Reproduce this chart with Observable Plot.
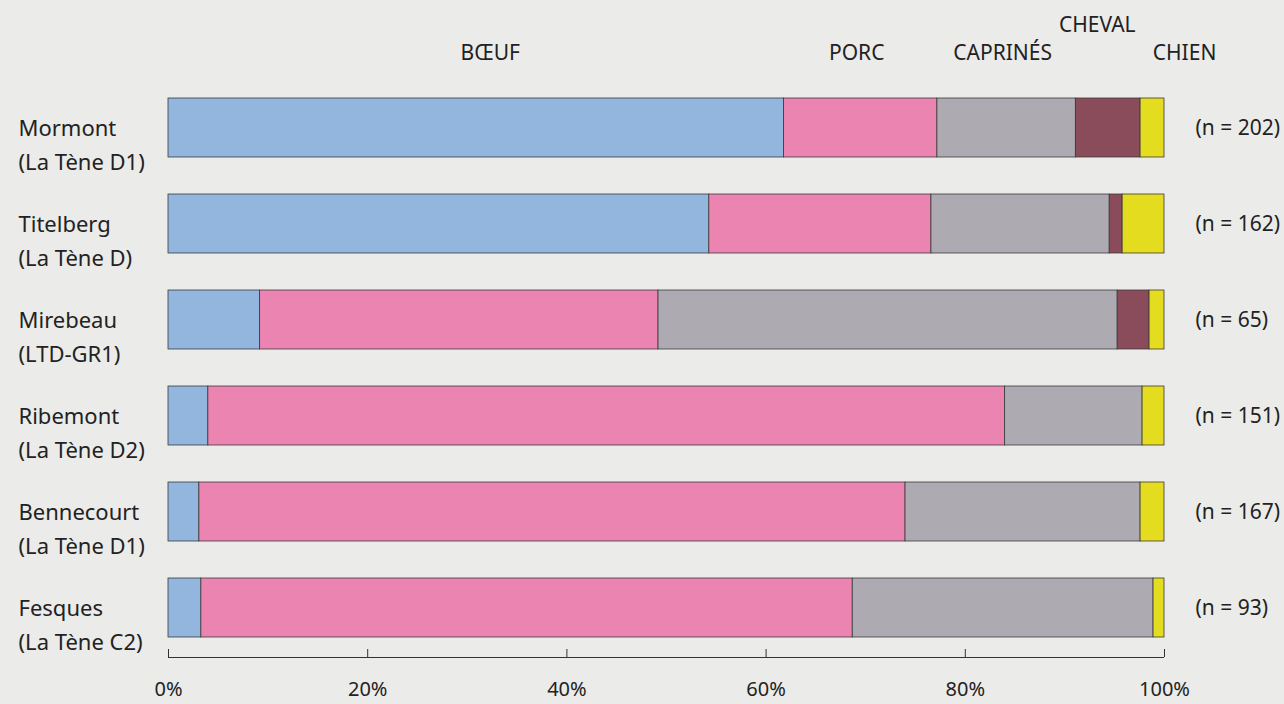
<!DOCTYPE html>
<html><head><meta charset="utf-8">
<script src="https://cdn.jsdelivr.net/npm/d3@7"></script>
<script src="https://cdn.jsdelivr.net/npm/@observablehq/plot@0.6"></script>
<style>
html,body{margin:0;padding:0;background:#ebebe9;}
#chart{width:1284px;height:704px;}
</style></head><body><div id="chart"></div>
<script>
const sites = ["Mormont","Titelberg","Mirebeau","Ribemont","Bennecourt","Fesques"];
const periods = ["(La Tène D1)","(La Tène D)","(LTD-GR1)","(La Tène D2)","(La Tène D1)","(La Tène C2)"];
const counts = [202,162,65,151,167,93];
const categories = ["BŒUF","PORC","CAPRINÉS","CHEVAL","CHIEN"];
const boeuf    = [61.8,54.3, 9.2, 4.0, 3.1, 3.3];
const porc     = [15.4,22.3,40.0,80.0,70.9,65.4];
const caprines = [13.9,17.9,46.1,13.8,23.6,30.2];
const cheval   = [ 6.5, 1.3, 3.2, 0.0, 0.0, 0.0];
const chien    = [ 2.4, 4.2, 1.5, 2.2, 2.4, 1.1];
const ticks = [0,20,40,60,80,100];
const colors = ["#93b6de","#ec84b1","#aeaab2","#8a4b5a","#e4dc1e"];

const series = [boeuf, porc, caprines, cheval, chien];
const rows = [];
sites.forEach((s,i) => series.forEach((arr,j) => rows.push({site:s, cat:categories[j], value:arr[i]})));
const siteRows = sites.map((s,i) => ({site:s, period:periods[i], n:counts[i]}));
let cum = 0;
const headers = categories.map((c,j) => { const v = series[j][0]; const m = cum + v/2; cum += v; return {cat:c, mid:m}; });

const W = 1284, H = 704, ML = 168, MR = 120, MT = 77, MB = 47;
const ink = "#222";
const hdr = (names, opts) => Plot.text(headers.filter(d => names.includes(d.cat)),
  {x:"mid", y:() => sites[0], text:"cat", fontSize:21, fill:ink, ...opts});

const plot = Plot.plot({
  width:W, height:H, marginLeft:ML, marginRight:MR, marginTop:MT, marginBottom:MB,
  style:{background:"transparent", fontFamily:"'Noto Sans', sans-serif", fontSize:"21px", color:ink},
  x:{domain:[0,100], axis:null},
  y:{domain:sites, paddingInner:0.39, paddingOuter:0.195, axis:null},
  color:{domain:categories, range:colors},
  marks:[
    Plot.barX(rows, Plot.stackX({x:"value", y:"site", fill:"cat", stroke:"#3a3a3a", strokeWidth:0.8})),
    Plot.ruleX(ticks, {x:d => d, insetTop:H-MT-MB-8, stroke:"#333", strokeWidth:1}),
    Plot.axisX({ticks, tickFormat:d => d + "%", tickSize:0, tickPadding:24, fontSize:20, fill:ink}),
    Plot.text(siteRows, {y:"site", text:d => d.site + "\n" + d.period, frameAnchor:"left",
      textAnchor:"start", dx:-150, dy:14, lineHeight:1.55, fontSize:22, fill:ink}),
    Plot.text(siteRows, {y:"site", text:d => `(n = ${d.n})`, frameAnchor:"right",
      textAnchor:"start", dx:31, fontSize:21, fill:ink}),
    hdr(["BŒUF"], {dx:14, dy:-75}),
    hdr(["PORC","CAPRINÉS"], {dx:-4, dy:-75}),
    hdr(["CHEVAL"], {dx:-11, dy:-103}),
    hdr(["CHIEN"], {dx:32, dy:-75})
  ]
});
const xs = plot.scale("x");
d3.select(plot).append("line")
  .attr("x1", xs.apply(0)).attr("x2", xs.apply(100))
  .attr("y1", H - MB + 0.5).attr("y2", H - MB + 0.5)
  .attr("stroke", "#333").attr("stroke-width", 1.2);
document.getElementById("chart").append(plot);
</script></body></html>
